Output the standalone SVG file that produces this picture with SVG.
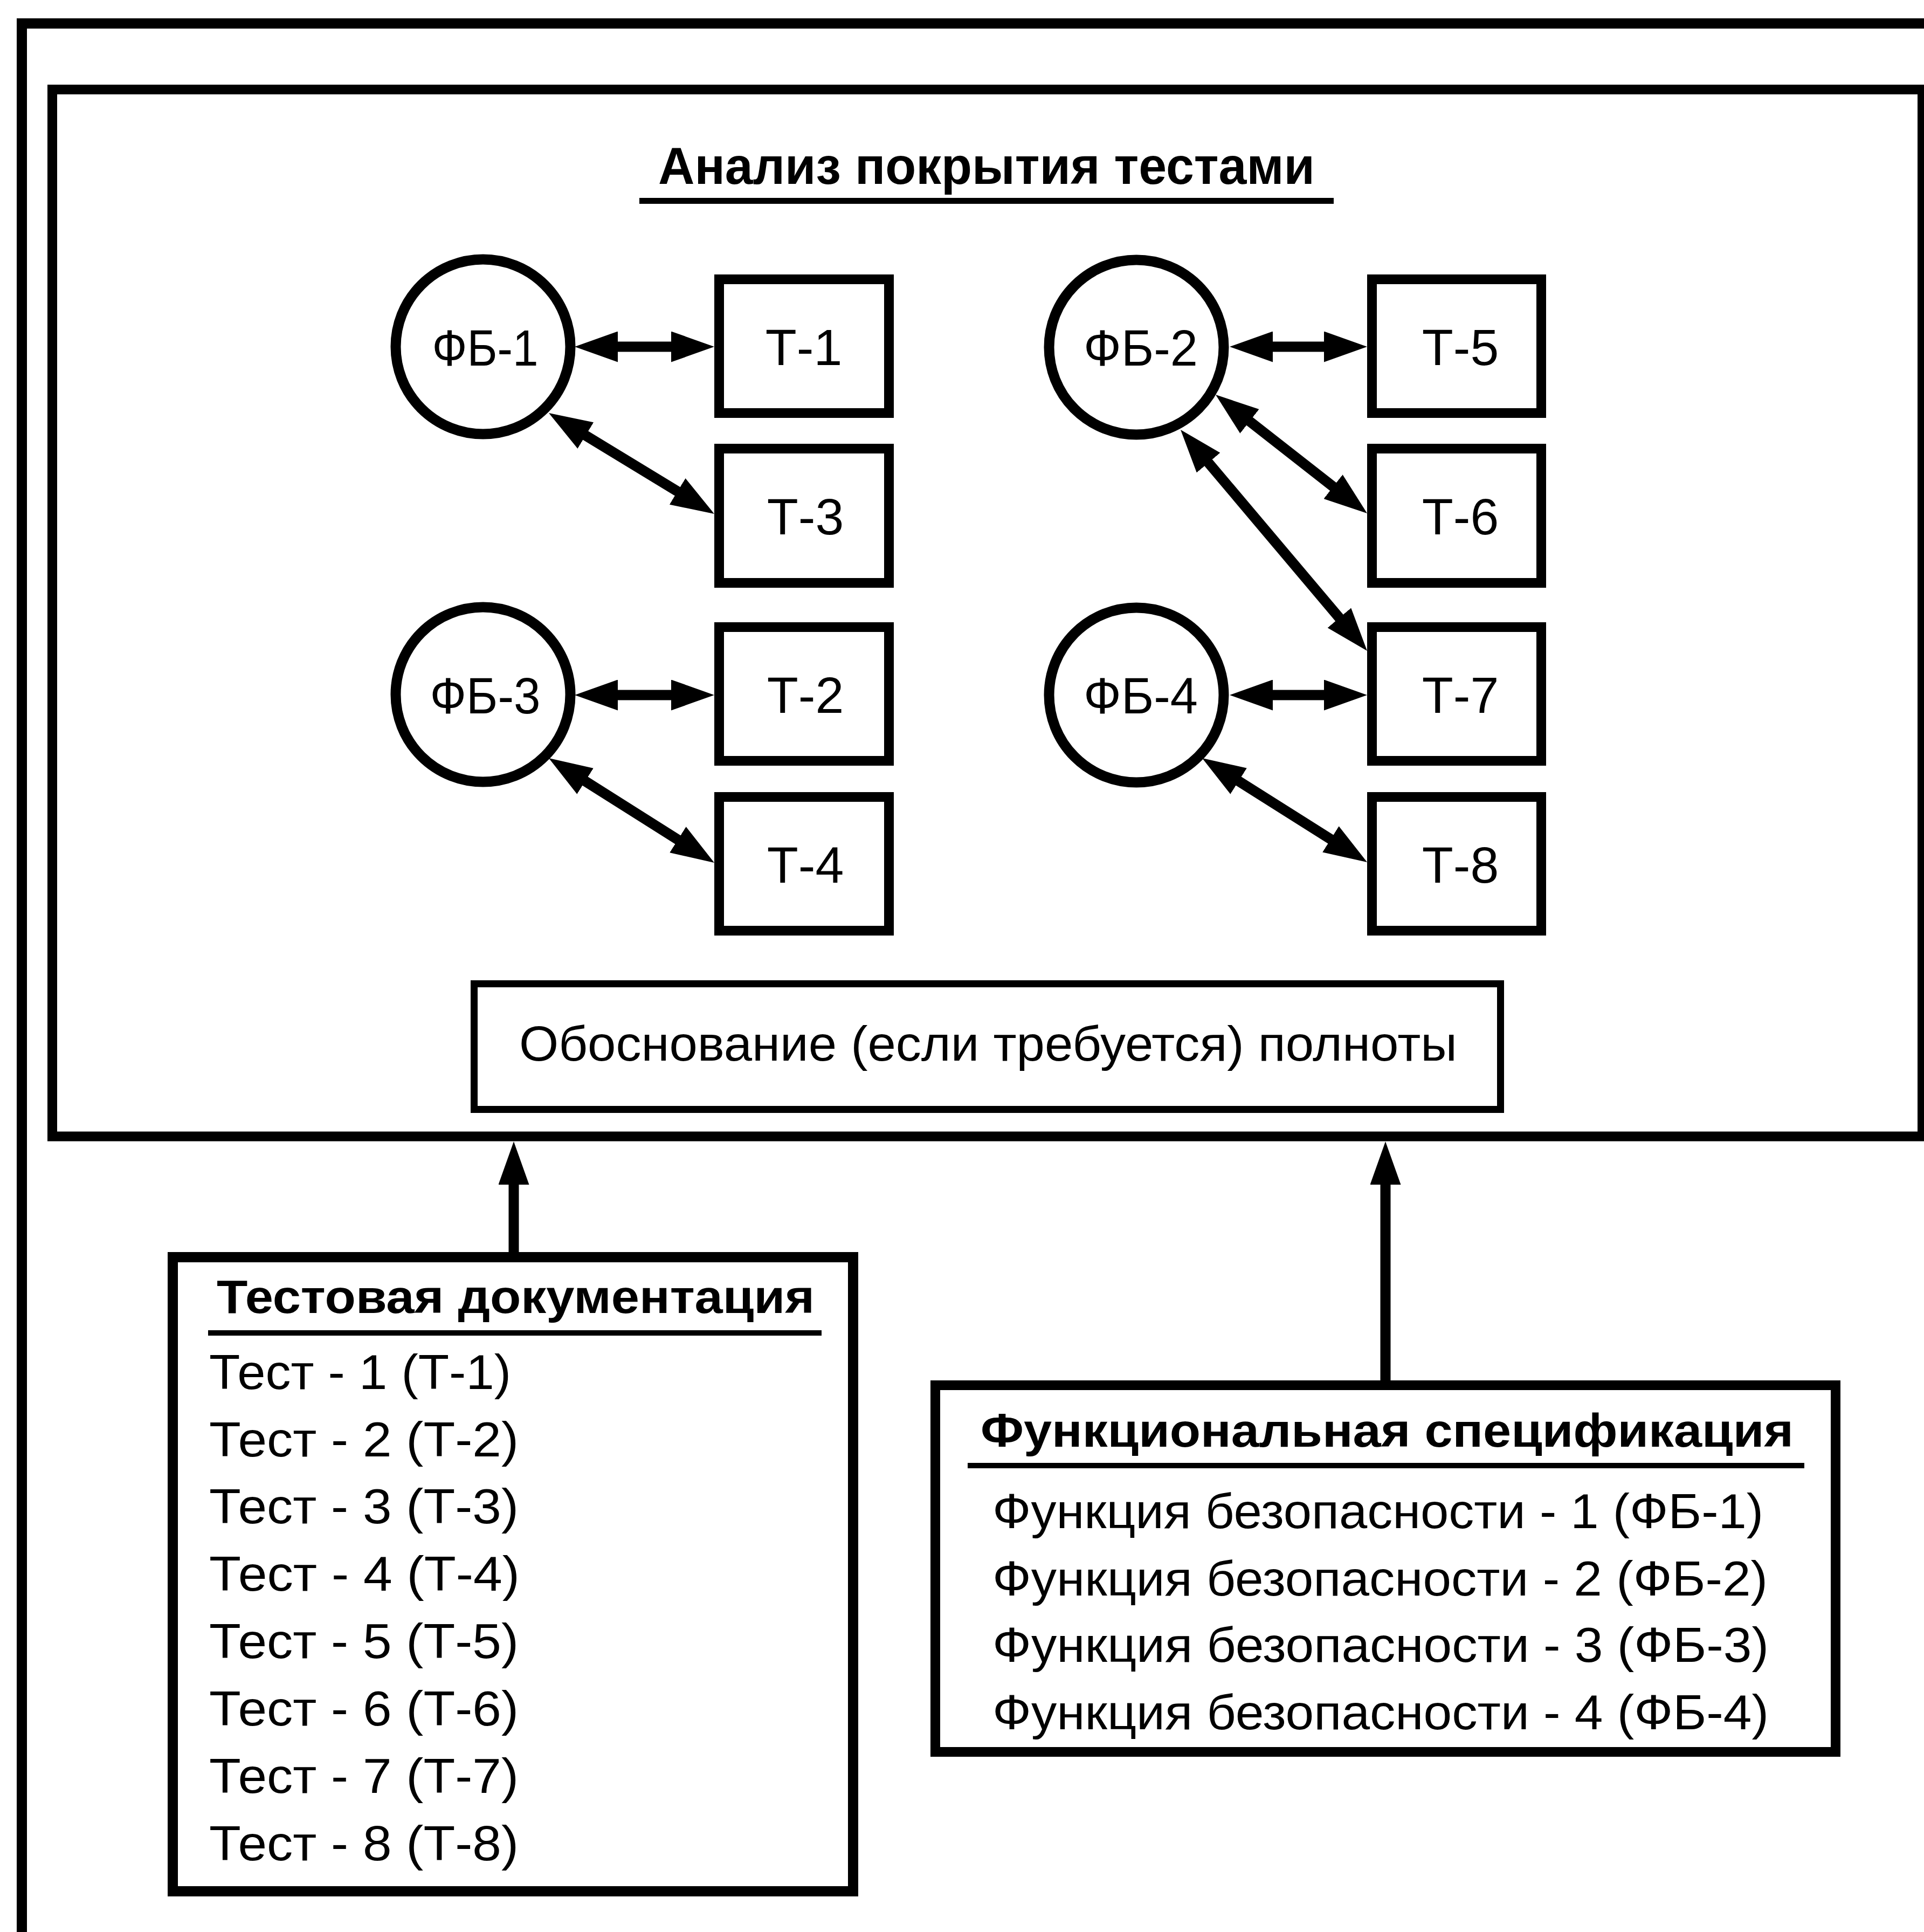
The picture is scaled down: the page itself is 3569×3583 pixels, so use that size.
<svg xmlns="http://www.w3.org/2000/svg" width="3569" height="3583" viewBox="0 0 3569 3583">
<style>
.frame{fill:none;stroke:#000;stroke-width:19}
.box{fill:#fff;stroke:#000;stroke-width:18}
.node{fill:#fff;stroke:#000;stroke-width:19}
.lbl{font-family:"Liberation Sans",Arial,sans-serif;font-size:95px;fill:#000;text-anchor:middle}
.txt{font-family:"Liberation Sans",Arial,sans-serif;font-size:90px;fill:#000}
.bold{font-family:"Liberation Sans",Arial,sans-serif;font-weight:bold;fill:#000}
.con{fill:none;stroke:#000;stroke-width:19}
</style>
<defs>
<marker id="ah" markerUnits="userSpaceOnUse" markerWidth="80" markerHeight="57" viewBox="0 0 80 57" refX="40" refY="28.5" orient="auto-start-reverse">
<path d="M0,0 L80,28.5 L0,57 z" fill="#000"/>
</marker>
</defs>
<rect width="3569" height="3583" fill="#fff"/>
<g id="outer-frame">
<rect class="frame" x="40.5" y="43.5" width="3600" height="3600"/>
</g>
<g id="analysis-frame">
<rect class="frame" x="97" y="166" width="3469" height="1941.5" style="stroke-width:18"/>
<text class="bold" x="1221" y="341" font-size="96" textLength="1218" lengthAdjust="spacingAndGlyphs">Анализ покрытия тестами</text>
<rect x="1186" y="367" width="1288" height="11" fill="#000"/>
</g>
<g id="connectors">
<line class="con" x1="1106" y1="643" x2="1285" y2="643" marker-start="url(#ah)" marker-end="url(#ah)"/>
<line class="con" x1="1052.2" y1="786.8" x2="1290.8" y2="932.2" marker-start="url(#ah)" marker-end="url(#ah)"/>
<line class="con" x1="1106" y1="1289" x2="1285" y2="1289" marker-start="url(#ah)" marker-end="url(#ah)"/>
<line class="con" x1="1051.8" y1="1427.4" x2="1291.2" y2="1578.6" marker-start="url(#ah)" marker-end="url(#ah)"/>
<line class="con" x1="2321" y1="643" x2="2496" y2="643" marker-start="url(#ah)" marker-end="url(#ah)"/>
<line class="con" x1="2286.5" y1="756.7" x2="2504.5" y2="927.3" marker-start="url(#ah)" marker-end="url(#ah)"/>
<line class="con" x1="2215.8" y1="827.6" x2="2510.2" y2="1176.4" marker-start="url(#ah)" marker-end="url(#ah)"/>
<line class="con" x1="2321" y1="1289" x2="2496" y2="1289" marker-start="url(#ah)" marker-end="url(#ah)"/>
<line class="con" x1="2263.8" y1="1427.3" x2="2502.2" y2="1577.7" marker-start="url(#ah)" marker-end="url(#ah)"/>
<line class="con" x1="953" y1="2331" x2="953" y2="2157" marker-end="url(#ah)"/>
<line class="con" x1="2570" y1="2569" x2="2570" y2="2157" marker-end="url(#ah)"/>
</g>
<g id="fb1"><circle class="node" cx="896" cy="643" r="162"/><text class="lbl" x="900" y="678" textLength="197" lengthAdjust="spacingAndGlyphs">ФБ-1</text></g>
<g id="fb3"><circle class="node" cx="896" cy="1288" r="162"/><text class="lbl" x="900" y="1323" textLength="205" lengthAdjust="spacingAndGlyphs">ФБ-3</text></g>
<g id="fb2"><circle class="node" cx="2108" cy="644" r="162"/><text class="lbl" x="2116" y="678" textLength="212" lengthAdjust="spacingAndGlyphs">ФБ-2</text></g>
<g id="fb4"><circle class="node" cx="2108" cy="1289" r="162"/><text class="lbl" x="2116" y="1323" textLength="212" lengthAdjust="spacingAndGlyphs">ФБ-4</text></g>
<g id="t1"><rect class="box" x="1334" y="518" width="315" height="248"/><text class="lbl" x="1491" y="677">Т-1</text></g>
<g id="t3"><rect class="box" x="1334" y="832" width="315" height="249"/><text class="lbl" x="1494" y="991">Т-3</text></g>
<g id="t2"><rect class="box" x="1334" y="1163" width="315" height="248"/><text class="lbl" x="1494" y="1322">Т-2</text></g>
<g id="t4"><rect class="box" x="1334" y="1478" width="315" height="248"/><text class="lbl" x="1494" y="1637">Т-4</text></g>
<g id="t5"><rect class="box" x="2545" y="518" width="314" height="248"/><text class="lbl" x="2709" y="677">Т-5</text></g>
<g id="t6"><rect class="box" x="2545" y="832" width="314" height="249"/><text class="lbl" x="2709" y="991">Т-6</text></g>
<g id="t7"><rect class="box" x="2545" y="1163" width="314" height="248"/><text class="lbl" x="2709" y="1322">Т-7</text></g>
<g id="t8"><rect class="box" x="2545" y="1478" width="314" height="248"/><text class="lbl" x="2709" y="1637">Т-8</text></g>
<g id="justification">
<rect class="box" x="879.5" y="1824.5" width="1904" height="233" style="stroke-width:13"/>
<text class="txt" x="963" y="1967" font-size="95" textLength="1740" lengthAdjust="spacingAndGlyphs">Обоснование (если требуется) полноты</text>
</g>
<g id="test-docs">
<rect class="box" x="320.5" y="2331.5" width="1262" height="1176" style="stroke-width:19"/>
<text class="bold" x="402" y="2435" font-size="87" textLength="1109" lengthAdjust="spacingAndGlyphs">Тестовая документация</text>
<rect x="386" y="2467" width="1138" height="10" fill="#000"/>
<text class="txt" x="388" y="2576" textLength="560" lengthAdjust="spacingAndGlyphs">Тест - 1 (Т-1)</text>
<text class="txt" x="388" y="2701" textLength="574" lengthAdjust="spacingAndGlyphs">Тест - 2 (Т-2)</text>
<text class="txt" x="388" y="2825" textLength="574" lengthAdjust="spacingAndGlyphs">Тест - 3 (Т-3)</text>
<text class="txt" x="388" y="2950" textLength="576" lengthAdjust="spacingAndGlyphs">Тест - 4 (Т-4)</text>
<text class="txt" x="388" y="3075" textLength="574" lengthAdjust="spacingAndGlyphs">Тест - 5 (Т-5)</text>
<text class="txt" x="388" y="3200" textLength="574" lengthAdjust="spacingAndGlyphs">Тест - 6 (Т-6)</text>
<text class="txt" x="388" y="3325" textLength="574" lengthAdjust="spacingAndGlyphs">Тест - 7 (Т-7)</text>
<text class="txt" x="388" y="3450" textLength="574" lengthAdjust="spacingAndGlyphs">Тест - 8 (Т-8)</text>
</g>
<g id="func-spec">
<rect class="box" x="1735" y="2569" width="1670" height="680"/>
<text class="bold" x="1819" y="2683" font-size="87" textLength="1508" lengthAdjust="spacingAndGlyphs">Функциональная спецификация</text>
<rect x="1795" y="2713" width="1552" height="10" fill="#000"/>
<text class="txt" x="1841" y="2834" font-size="87" textLength="1430" lengthAdjust="spacingAndGlyphs">Функция безопасности - 1 (ФБ-1)</text>
<text class="txt" x="1841" y="2959" font-size="87" textLength="1438" lengthAdjust="spacingAndGlyphs">Функция безопасности - 2 (ФБ-2)</text>
<text class="txt" x="1841" y="3082" font-size="87" textLength="1440" lengthAdjust="spacingAndGlyphs">Функция безопасности - 3 (ФБ-3)</text>
<text class="txt" x="1841" y="3207" font-size="87" textLength="1440" lengthAdjust="spacingAndGlyphs">Функция безопасности - 4 (ФБ-4)</text>
</g>
</svg>
